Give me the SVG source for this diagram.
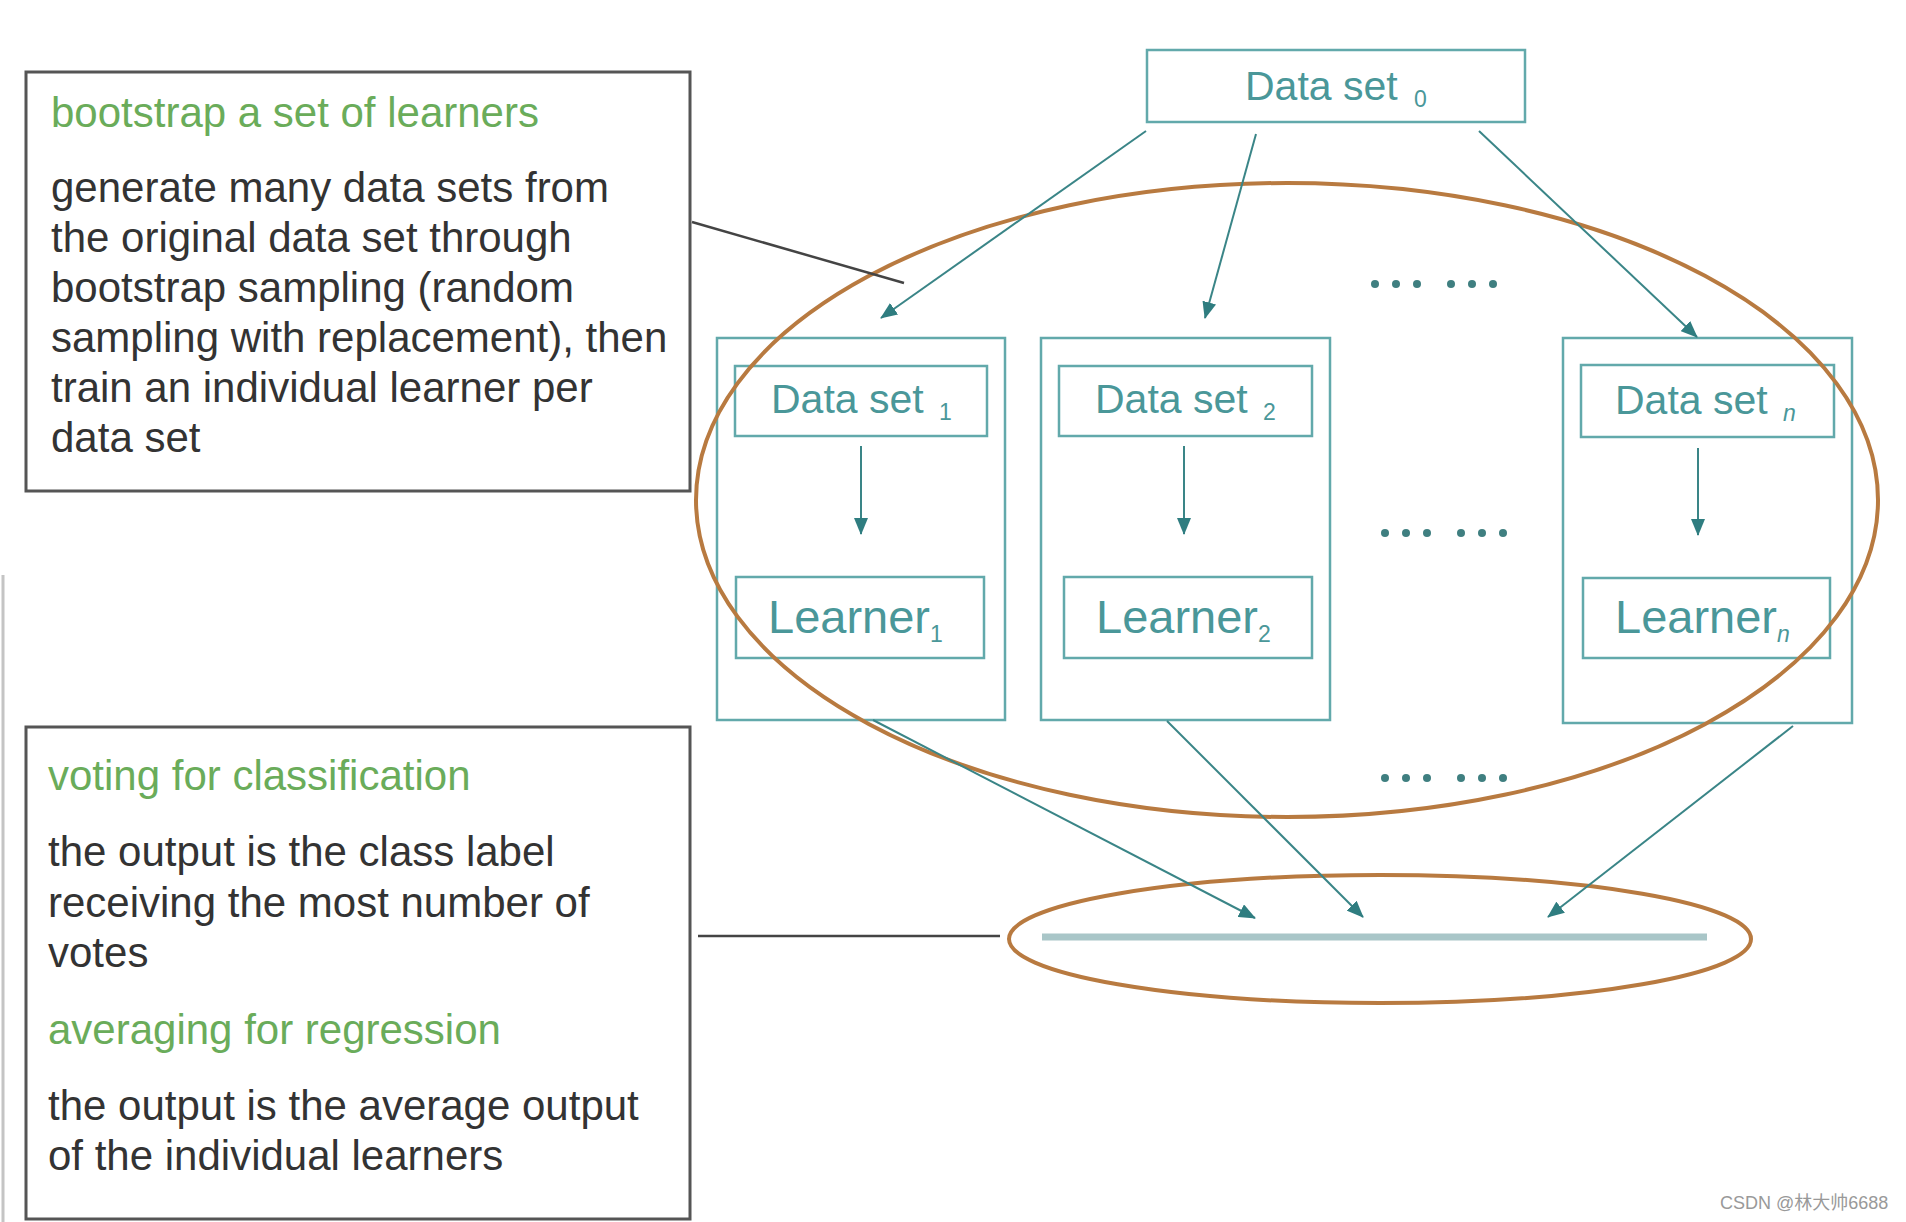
<svg xmlns="http://www.w3.org/2000/svg" width="1906" height="1222" viewBox="0 0 1906 1222">
<style>
.box{fill:none;stroke:#62a9ab;stroke-width:2.5}
.note{fill:#fff;stroke:#555;stroke-width:3}
.lbl{font-family:"Liberation Sans",Arial,sans-serif;fill:#4a9799}
.ds{font-size:41px}
.ln{font-size:47px}
.sub{font-size:23px}
.body{font-family:"Liberation Sans",Arial,sans-serif;font-size:42px;fill:#333}
.green{fill:#6aac5a}
.arr{stroke:#3a8587;stroke-width:2;fill:none;marker-end:url(#ah)}
.ell{fill:none;stroke:#b87a40;stroke-width:4}
.lead{stroke:#444;stroke-width:2.5;fill:none}
.dot{fill:#3f7f80}
</style>
<defs>
<marker id="ah" markerUnits="userSpaceOnUse" markerWidth="18" markerHeight="14" refX="16" refY="7" orient="auto">
<path d="M0,0 L17,7 L0,14 Z" fill="#2f7d80"/>
</marker>
</defs>
<rect width="1906" height="1222" fill="#fff"/>
<line x1="3" y1="575" x2="3" y2="1222" stroke="#c4c4c4" stroke-width="3"/>

<g id="note-bootstrap">
<rect class="note" x="26" y="72" width="664" height="419"/>
<text class="body green" x="51" y="127">bootstrap a set of learners</text>
<text class="body" x="51" y="202">generate many data sets from</text>
<text class="body" x="51" y="252">the original data set through</text>
<text class="body" x="51" y="302">bootstrap sampling (random</text>
<text class="body" x="51" y="352">sampling with replacement), then</text>
<text class="body" x="51" y="402">train an individual learner per</text>
<text class="body" x="51" y="452">data set</text>
</g>

<g id="note-voting">
<rect class="note" x="26" y="727" width="664" height="492"/>
<text class="body green" x="48" y="790">voting for classification</text>
<text class="body" x="48" y="866">the output is the class label</text>
<text class="body" x="48" y="917">receiving the most number of</text>
<text class="body" x="48" y="967">votes</text>
<text class="body green" x="48" y="1044">averaging for regression</text>
<text class="body" x="48" y="1120">the output is the average output</text>
<text class="body" x="48" y="1170">of the individual learners</text>
</g>

<g id="dataset0">
<rect class="box" x="1147" y="50" width="378" height="72"/>
<text class="lbl ds" x="1245" y="100">Data set <tspan class="sub" dx="5" dy="7">0</tspan></text>
</g>

<g id="column1">
<rect class="box" x="717" y="338" width="288" height="382"/>
<g id="dataset1">
<rect class="box" x="735" y="366" width="252" height="70"/>
<text class="lbl ds" x="771" y="413">Data set <tspan class="sub" dx="4" dy="7">1</tspan></text>
</g>
<g id="learner1">
<rect class="box" x="736" y="577" width="248" height="81"/>
<text class="lbl ln" x="768" y="633">Learner<tspan class="sub" dy="9">1</tspan></text>
</g>
</g>

<g id="column2">
<rect class="box" x="1041" y="338" width="289" height="382"/>
<g id="dataset2">
<rect class="box" x="1059" y="366" width="253" height="70"/>
<text class="lbl ds" x="1095" y="413">Data set <tspan class="sub" dx="4" dy="7">2</tspan></text>
</g>
<g id="learner2">
<rect class="box" x="1064" y="577" width="248" height="81"/>
<text class="lbl ln" x="1096" y="633">Learner<tspan class="sub" dy="9">2</tspan></text>
</g>
</g>

<g id="columnn">
<rect class="box" x="1563" y="338" width="289" height="385"/>
<g id="datasetn">
<rect class="box" x="1581" y="365" width="253" height="72"/>
<text class="lbl ds" x="1615" y="414">Data set <tspan class="sub" dx="4" dy="7" font-style="italic">n</tspan></text>
</g>
<g id="learnern">
<rect class="box" x="1583" y="578" width="247" height="80"/>
<text class="lbl ln" x="1615" y="633">Learner<tspan class="sub" dy="9" font-style="italic">n</tspan></text>
</g>
</g>

<g id="output">
<line x1="1042" y1="937" x2="1707" y2="937" stroke="#a9c6c8" stroke-width="7"/>
</g>

<g id="ellipses">
<ellipse class="ell" cx="1287" cy="500" rx="591" ry="317"/>
<ellipse class="ell" cx="1380" cy="939" rx="371" ry="64"/>
</g>

<g id="dots">
<circle class="dot" cx="1375" cy="284" r="4"/><circle class="dot" cx="1396" cy="284" r="4"/><circle class="dot" cx="1417" cy="284" r="4"/>
<circle class="dot" cx="1451" cy="284" r="4"/><circle class="dot" cx="1472" cy="284" r="4"/><circle class="dot" cx="1493" cy="284" r="4"/>
<circle class="dot" cx="1385" cy="533" r="4"/><circle class="dot" cx="1406" cy="533" r="4"/><circle class="dot" cx="1427" cy="533" r="4"/>
<circle class="dot" cx="1461" cy="533" r="4"/><circle class="dot" cx="1482" cy="533" r="4"/><circle class="dot" cx="1503" cy="533" r="4"/>
<circle class="dot" cx="1385" cy="778" r="4"/><circle class="dot" cx="1406" cy="778" r="4"/><circle class="dot" cx="1427" cy="778" r="4"/>
<circle class="dot" cx="1461" cy="778" r="4"/><circle class="dot" cx="1482" cy="778" r="4"/><circle class="dot" cx="1503" cy="778" r="4"/>
</g>

<g id="connectors">
<line class="arr" x1="1146" y1="131" x2="881" y2="318"/>
<line class="arr" x1="1256" y1="134" x2="1205" y2="318"/>
<line class="arr" x1="1479" y1="131" x2="1697" y2="337"/>
<line class="arr" x1="861" y1="446" x2="861" y2="534"/>
<line class="arr" x1="1184" y1="446" x2="1184" y2="534"/>
<line class="arr" x1="1698" y1="448" x2="1698" y2="535"/>
<line class="arr" x1="873" y1="720" x2="1255" y2="918"/>
<line class="arr" x1="1167" y1="721" x2="1363" y2="917"/>
<line class="arr" x1="1793" y1="726" x2="1548" y2="917"/>
<line class="lead" x1="692" y1="222" x2="904" y2="283"/>
<line class="lead" x1="698" y1="936" x2="1000" y2="936"/>
</g>

<text x="1720" y="1209" font-family="'Liberation Sans','Noto Sans CJK SC',sans-serif" font-size="18" fill="#999">CSDN @林大帅6688</text>
</svg>
